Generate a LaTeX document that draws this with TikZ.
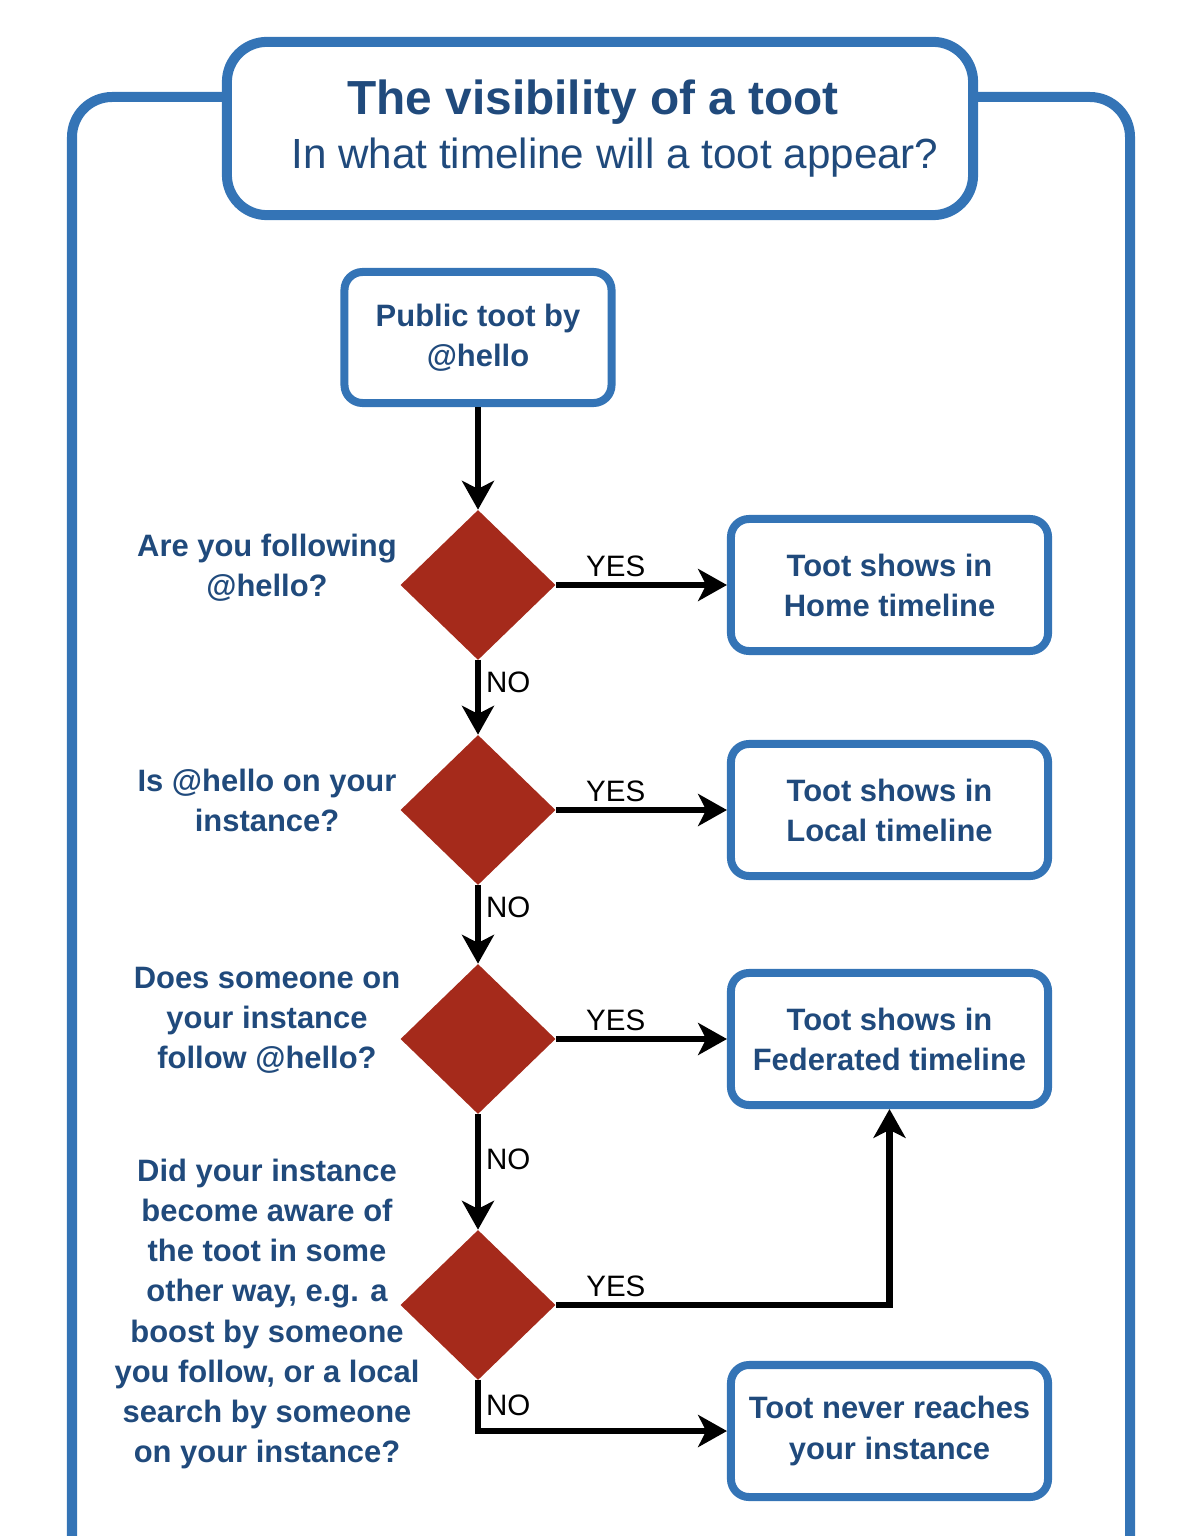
\documentclass[tikz,border=0pt]{standalone}
\usepackage{fontspec}
\setmainfont{Liberation Sans}
\usetikzlibrary{shapes.geometric,arrows.meta}
\definecolor{tootblue}{HTML}{3474B6}
\definecolor{tootink}{HTML}{204A7C}
\definecolor{tootred}{HTML}{A52A1B}
\begin{document}
\begin{tikzpicture}[
    x=0.025cm, y=-0.025cm,
    frame/.style={draw=tootblue, line width=0.25cm, rounded corners=1cm},
    titlebox/.style={draw=tootblue, line width=0.25cm, rounded corners=1cm, text=tootink,
      align=center, minimum width=18.65cm, minimum height=4.33cm, font=\fontsize{30}{39}\selectfont},
    box/.style={draw=tootblue, line width=0.2cm, rounded corners=0.45cm, text=tootink, align=center,
      minimum width=7.925cm, minimum height=3.3cm, font=\fontsize{22}{28.5}\selectfont\bfseries},
    decision/.style={diamond, fill=tootred, inner sep=0pt, minimum width=3.875cm, minimum height=3.75cm},
    question/.style={text=tootink, align=center, font=\fontsize{22}{28.5}\selectfont\bfseries},
    flow/.style={draw, line width=0.17cm, -{Stealth[length=0.72cm, width=0.8cm, inset=0.2cm]}},
    answer/.style={font=\fontsize{21}{25}\selectfont}
  ]
  \useasboundingbox (0,0) rectangle (1201,1536);
  \node[titlebox] (title) at (600,128.5)
    {{\fontsize{34}{39}\selectfont\bfseries The visibility of a toot\hspace*{0.35cm}}\\\hspace*{0.75cm}In what timeline will a toot appear?};
  \coordinate (frametl) at (72,97);
  \coordinate (frametr) at (1130,97);
  \draw[frame] (72,1545) -- (frametl) -- (title.west |- frametl);
  \draw[frame] (title.east |- frametr) -- (frametr) -- (1130,1545);

  \node[box, minimum width=6.675cm, minimum height=3.275cm] (start) at (478,337.5) {Public toot by\\@hello};
  \node[decision] (d1) at (478,585) {};
  \node[decision] (d2) at (478,810) {};
  \node[decision] (d3) at (478,1039) {};
  \node[decision] (d4) at (478,1305) {};
  \node[box] (home) at (889.5,585) {Toot shows in\\Home timeline};
  \node[box] (local) at (889.5,810) {Toot shows in\\Local timeline};
  \node[box] (fed) at (889.5,1039) {Toot shows in\\Federated timeline};
  \node[box] (never) at (889.5,1431) {Toot never reaches\\your instance};

  \node[question] (q1) at (267,567.5) {Are you following\\@hello?};
  \node[question] (q2) at (267,800) {Is @hello on your\\instance?};
  \node[question] (q3) at (267,1020) {Does someone on\\your instance\\follow @hello?};
  \node[question] (q4) at (267,1314) {Did your instance\\become aware of\\the toot in some\\other way, e.g. a\\boost
    by someone\\you follow, or a local\\search by someone\\on your instance?};

  \draw[flow] (start) -- (d1);
  \draw[flow] (d1) -- node[answer, above, pos=0.35] {YES} (home);
  \draw[flow] (d2) -- node[answer, above, pos=0.35] {YES} (local);
  \draw[flow] (d3) -- node[answer, above, pos=0.35] {YES} (fed);
  \draw[flow] (d1) -- node[answer, right, pos=0.3] {NO} (d2);
  \draw[flow] (d2) -- node[answer, right, pos=0.28] {NO} (d3);
  \draw[flow] (d3) -- node[answer, right, pos=0.39] {NO} (d4);
  \draw[flow] (d4.east) -| node[answer, above, pos=0.09] {YES} (fed);
  \draw[flow] (d4.south) |- node[answer, right, pos=0.25] {NO} (never);
\end{tikzpicture}
\end{document}
